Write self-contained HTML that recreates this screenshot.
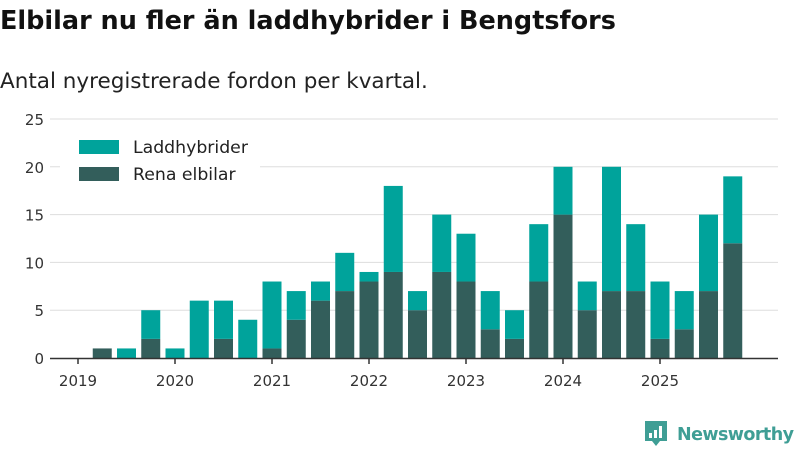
<!DOCTYPE html>
<html><head><meta charset="utf-8"><style>
body{margin:0;background:#fff;font-family:"DejaVu Sans","Liberation Sans",sans-serif;}
svg text{font-family:"DejaVu Sans","Liberation Sans",sans-serif;}
</style></head><body>
<svg id="c" width="800" height="450" xmlns="http://www.w3.org/2000/svg">
<text x="0" y="29" font-size="25.5" font-weight="bold" fill="#111">Elbilar nu fler än laddhybrider i Bengtsfors</text>
<text x="0" y="88" font-size="21.5" fill="#222">Antal nyregistrerade fordon per kvartal.</text>
<g id="grid"></g><g id="bars"></g><g id="axis"></g>
<g>
<rect x="60" y="130" width="200" height="60" fill="#fff"/>
<rect x="79" y="140" width="40" height="14" fill="#00a39b"/>
<text x="133" y="153" font-size="17.3" fill="#222">Laddhybrider</text>
<rect x="79" y="167" width="40" height="14" fill="#335e5b"/>
<text x="133" y="180" font-size="17.3" fill="#222">Rena elbilar</text>
</g>
<g>
<path d="M645 421 h22 v20 h-7 l-4 5 l-4 -5 h-7 z" fill="#3f9e95"/>
<rect x="649" y="433" width="3" height="5" fill="#fff"/><rect x="654" y="430" width="3" height="8" fill="#fff"/><rect x="659" y="426" width="3" height="12" fill="#fff"/>
<text x="677" y="440" font-size="17.5" font-weight="bold" fill="#3f9e95" textLength="117">Newsworthy</text>
</g>
</svg>
<script>
const quarters=["2019Q1","2019Q2","2019Q3","2019Q4","2020Q1","2020Q2","2020Q3","2020Q4","2021Q1","2021Q2","2021Q3","2021Q4","2022Q1","2022Q2","2022Q3","2022Q4","2023Q1","2023Q2","2023Q3","2023Q4","2024Q1","2024Q2","2024Q3","2024Q4","2025Q1","2025Q2","2025Q3","2025Q4"];
const elbilar=[0,1,0,2,0,0,2,0,1,4,6,7,8,9,5,9,8,3,2,8,15,5,7,7,2,3,7,12];
const laddhybrider=[0,0,1,3,1,6,4,4,7,3,2,4,1,9,2,6,5,4,3,6,5,3,13,7,6,4,8,7];
const yTicks=[0,5,10,15,20,25];
const years=["2019","2020","2021","2022","2023","2024","2025"];
const NS="http://www.w3.org/2000/svg";
const y=v=>358-v*(239/25);
const x=i=>78+i*24.25;
function mk(t,a,p){const e=document.createElementNS(NS,t);for(const k in a)e.setAttribute(k,a[k]);p.appendChild(e);return e;}
const G=document.getElementById('grid'),B=document.getElementById('bars'),A=document.getElementById('axis');
yTicks.forEach(t=>{
 if(t>0){const l=mk('line',{x1:50,x2:778,y1:y(t),y2:y(t),stroke:'#ddd','stroke-width':1},G);
 
 }
 const tx=mk('text',{x:44,y:y(t)+6,'font-size':15,'text-anchor':'end',fill:'#333'},A);tx.textContent=t;
 
 
});
quarters.forEach((q,i)=>{
 const e=elbilar[i],h=laddhybrider[i];
 if(e>0){const r=mk('rect',{x:x(i)-9.5,y:y(e),width:19,height:y(0)-y(e),fill:'#335e5b'},B);
 
 }
 if(h>0){const r=mk('rect',{x:x(i)-9.5,y:y(e+h),width:19,height:y(e)-y(e+h),fill:'#00a39b'},B);
 
 }
});
const ax=mk('line',{x1:50,x2:778,y1:358.5,y2:358.5,stroke:'#333','stroke-width':1.5},A);


years.forEach((yr,k)=>{
 const px=x(k*4);
 mk('line',{x1:px,x2:px,y1:358,y2:364,stroke:'#333','stroke-width':1.5},A);
 const t=mk('text',{x:px,y:386,'font-size':15,'text-anchor':'middle',fill:'#333'},A);t.textContent=yr;
 
 
});
</script>
</body></html>
